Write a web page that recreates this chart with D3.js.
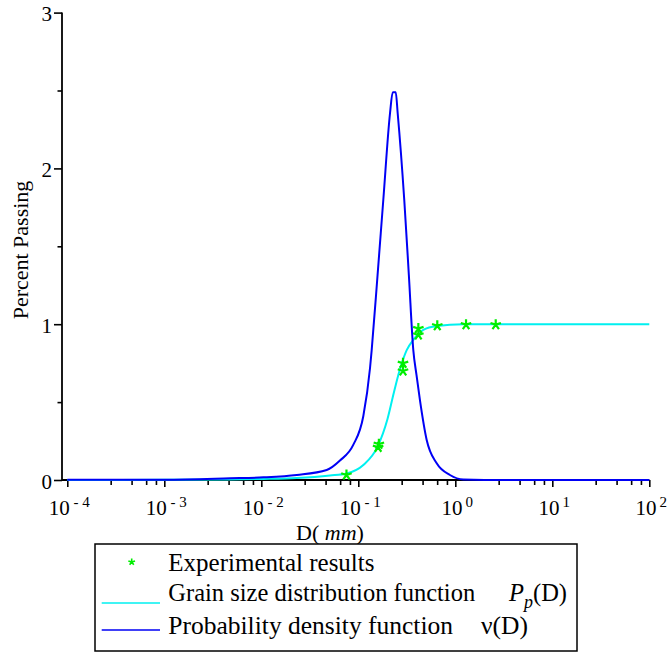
<!DOCTYPE html>
<html><head><meta charset="utf-8">
<script src="https://cdn.jsdelivr.net/npm/d3@7"></script>
<style>
body{margin:0;background:#fff}
svg{display:block}
</style>
</head><body>
<svg id="c" width="668" height="653" style="font-family:'Liberation Serif','Times New Roman','DejaVu Serif',serif"></svg>
<script>
// ---- data ----
const decadeExponents = [-4, -3, -2, -1, 0, 1, 2];
const minorMultipliers = [2.8, 4.6, 6.5, 8.2];
const yTicks = [0, 1, 2, 3];
const yMinorTicks = [0.5, 1.5, 2.5];

// probability density function v(D)
const pdfD = [1e-4, 0.001, 0.00475, 0.0105, 0.0232, 0.0472, 0.0647, 0.0887, 0.1127, 0.1321, 0.1374, 0.158, 0.181, 0.2123, 0.2265, 0.2432, 0.2547, 0.2978, 0.332, 0.369, 0.398, 0.432, 0.507, 0.643, 0.881, 1.21, 2, 100];
const pdfV = [0.001, 0.002, 0.011, 0.017, 0.032, 0.064, 0.125, 0.225, 0.411, 0.719, 0.834, 1.316, 1.797, 2.354, 2.489, 2.489, 2.354, 1.797, 1.316, 0.834, 0.674, 0.513, 0.257, 0.107, 0.032, 0.003, 0, 0];

// grain size distribution function Pp(D)
const cdfD = [1e-4, 0.001, 0.00475, 0.0105, 0.0232, 0.0511, 0.0758, 0.1127, 0.158, 0.200, 0.2334, 0.269, 0.3155, 0.369, 0.468, 0.643, 1.21, 100];
const cdfP = [0, 0.001, 0.004, 0.007, 0.013, 0.029, 0.042, 0.096, 0.214, 0.392, 0.565, 0.712, 0.834, 0.899, 0.963, 0.988, 0.999, 1];

// experimental results
const expD = [0.0755, 0.160, 0.163, 0.289, 0.289, 0.416, 0.416, 0.652, 1.29, 2.61];
const expP = [0.032, 0.21, 0.23, 0.749, 0.70, 0.972, 0.931, 0.990, 0.997, 0.997];

const legendLabels = ["Experimental results", "Grain size distribution function", "Probability density function"];
const yLabel = "Percent Passing";

// ---- drawing ----
const svg = d3.select("#c");
const x = d3.scaleLog().domain([1e-4, 100]).range([67.3, 649.3]);
const y = d3.scaleLinear().domain([0, 3]).range([480, 12.6]);
const axisLeftX = 62;

const cyan = "#00f0f0", blue = "#0000f5", green = "#00ee00";

svg.append("line").attr("x1", axisLeftX).attr("x2", x(100)).attr("y1", y(0)).attr("y2", y(0))
  .attr("stroke", "#000").attr("stroke-width", 1.8);
svg.append("line").attr("x1", axisLeftX).attr("x2", axisLeftX).attr("y1", y(0)).attr("y2", y(3))
  .attr("stroke", "#000").attr("stroke-width", 1.8);

const majors = decadeExponents.map(e => Math.pow(10, e));
const minors = [];
decadeExponents.slice(0, -1).forEach(e => minorMultipliers.forEach(m => minors.push(m * Math.pow(10, e))));

const gx = svg.append("g").attr("transform", `translate(0,${y(0)})`);
gx.call(d3.axisBottom(x).tickValues(majors).tickSize(7).tickSizeOuter(0).tickFormat(""));
gx.append("g").call(d3.axisBottom(x).tickValues(minors).tickSize(5).tickSizeOuter(0).tickFormat(""));
gx.selectAll(".domain").remove();
gx.selectAll(".tick line").attr("stroke", "#000").attr("stroke-width", 1.6);

const gy = svg.append("g").attr("transform", `translate(${axisLeftX},0)`);
gy.call(d3.axisLeft(y).tickValues(yTicks).tickSize(8).tickSizeOuter(0).tickFormat(""));
gy.append("g").call(d3.axisLeft(y).tickValues(yMinorTicks).tickSize(4.5).tickSizeOuter(0).tickFormat(""));
gy.selectAll(".domain").remove();
gy.selectAll(".tick line").attr("stroke", "#000").attr("stroke-width", 1.6);

decadeExponents.forEach(e => {
  const t = svg.append("text").attr("x", x(Math.pow(10, e)) + 2).attr("y", 515)
    .attr("text-anchor", "middle").attr("font-size", 21);
  t.append("tspan").text("10");
  t.append("tspan").attr("dy", -8).attr("font-size", 15).text(e < 0 ? " - " + (-e) : "\u2009" + e);
});
yTicks.forEach(v => {
  svg.append("text").attr("x", 52).attr("y", y(v) + 8.5).attr("text-anchor", "end")
    .attr("font-size", 21).text(v);
});

const xl = svg.append("text").attr("x", 330).attr("y", 540).attr("text-anchor", "middle").attr("font-size", 22);
xl.append("tspan").text("D( ");
xl.append("tspan").attr("font-style", "italic").text("mm");
xl.append("tspan").text(")");

svg.append("text").attr("transform", "translate(28,250) rotate(-90)").attr("text-anchor", "middle")
  .attr("font-size", 22).text(yLabel);

const line = d3.line().x(d => x(d[0])).y(d => y(d[1])).curve(d3.curveMonotoneX);
const cdfData = cdfD.map((d, i) => [d, cdfP[i]]);
const pdfData = pdfD.map((d, i) => [d, pdfV[i]]);
svg.append("path").datum(cdfData).attr("d", line).attr("fill", "none").attr("stroke", cyan).attr("stroke-width", 2);
svg.append("path").datum(pdfData).attr("d", line).attr("fill", "none").attr("stroke", blue).attr("stroke-width", 2);

function starPath(r) {
  let p = "";
  for (let k = 0; k < 5; k++) {
    const a = -Math.PI / 2 + k * 2 * Math.PI / 5;
    p += `M0,0L${(r * Math.cos(a)).toFixed(2)},${(r * Math.sin(a)).toFixed(2)}`;
  }
  return p;
}
svg.append("g").selectAll("path").data(expD.map((d, i) => [d, expP[i]])).join("path")
  .attr("transform", d => `translate(${x(d[0])},${y(d[1])})`)
  .attr("d", starPath(5.5)).attr("stroke", green).attr("stroke-width", 2.2).attr("fill", "none");

const lg = svg.append("g");
lg.append("rect").attr("x", 95).attr("y", 544).attr("width", 482).attr("height", 107)
  .attr("fill", "#fff").attr("stroke", "#000").attr("stroke-width", 1.5);
lg.append("path").attr("transform", "translate(131.7,562)").attr("d", starPath(3.5))
  .attr("stroke", green).attr("stroke-width", 1.6).attr("fill", "none");
lg.append("line").attr("x1", 101.7).attr("x2", 160).attr("y1", 603).attr("y2", 603).attr("stroke", cyan).attr("stroke-width", 1.5);
lg.append("line").attr("x1", 101.7).attr("x2", 160).attr("y1", 630).attr("y2", 630).attr("stroke", blue).attr("stroke-width", 1.5);

lg.append("text").attr("x", 168.3).attr("y", 570.5).attr("font-size", 25).text(legendLabels[0]);
const t2 = lg.append("text").attr("x", 168.3).attr("y", 600.5).attr("font-size", 24.5);
t2.append("tspan").text(legendLabels[1]);
t2.append("tspan").attr("x", 509).attr("font-style", "italic").text("P");
t2.append("tspan").attr("dy", 7).attr("font-style", "italic").attr("font-size", 18).text("p");
t2.append("tspan").attr("dy", -7).text("(D)");
const t3 = lg.append("text").attr("x", 168.3).attr("y", 634).attr("font-size", 25.5);
t3.append("tspan").text(legendLabels[2]);
t3.append("tspan").attr("x", 481).text("\u03BD(D)");
</script>
</body></html>
